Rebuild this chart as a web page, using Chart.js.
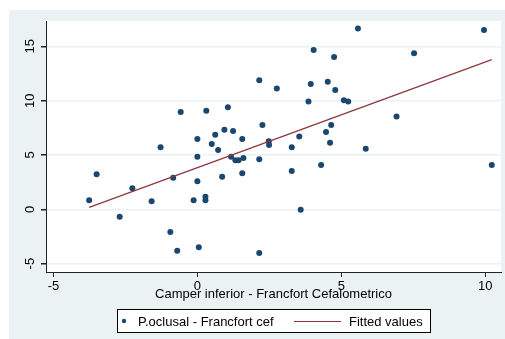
<!DOCTYPE html>
<html>
<head>
<meta charset="utf-8">
<script src="https://cdn.jsdelivr.net/npm/chart.js@4.4.1/dist/chart.umd.min.js"></script>
<style>
  html, body { margin: 0; padding: 0; background: #fff; }
  #wrap { width: 505px; height: 339px; position: relative; }
</style>
</head>
<body>
<div id="wrap"><canvas id="chart" width="505" height="339"></canvas></div>
<script>
// data
var xVals = [-3.76, -3.50, -2.70, -2.26, -1.59, -1.28, -0.94, -0.84, -0.70, -0.58,
             -0.13, 0.00, 0.00, 0.00, 0.05, 0.28, 0.28, 0.31, 0.50, 0.62,
             0.72, 0.86, 0.94, 1.06, 1.17, 1.24, 1.32, 1.43, 1.56, 1.56,
             1.60, 2.15, 2.15, 2.15, 2.26, 2.48, 2.49, 2.76, 3.28, 3.28,
             3.54, 3.59, 3.86, 3.94, 4.04, 4.30, 4.47, 4.53, 4.61, 4.65,
             4.75, 4.79, 5.09, 5.24, 5.58, 5.85, 6.92, 7.53, 9.96, 10.23];
var yVals = [0.83, 3.22, -0.68, 1.93, 0.74, 5.71, -2.09, 2.91, -3.81, 8.96,
             0.83, 2.58, 4.84, 6.47, -3.50, 1.16, 0.83, 9.08, 6.01, 6.87,
             5.46, 3.00, 7.33, 9.39, 4.84, 7.21, 4.51, 4.51, 6.47, 3.31,
             4.72, 11.88, 4.60, -4.03, 7.76, 6.26, 5.92, 11.11, 5.71, 3.53,
             6.69, -0.03, 9.91, 11.54, 14.67, 4.08, 7.12, 11.75, 6.13, 7.76,
             14.02, 10.99, 10.03, 9.91, 16.63, 5.58, 8.53, 14.36, 16.51, 4.08];
var fitX = [-3.76, 10.23];
var fitY = [0.18, 13.78];
var xTicks = [-5, 0, 5, 10];
var yTicks = [-5, 0, 5, 10, 15];
var xTitle = "Camper inferior - Francfort Cefalometrico";
var seriesNames = ["P.oclusal - Francfort cef", "Fitted values"];

var navy = "#1a476f";
var maroon = "#90353b";
var bgColor = "#eaf2f3";
var FONT = "'Liberation Sans', Arial, sans-serif";

var scatterPts = xVals.map(function (x, i) { return { x: x, y: yVals[i] }; });
var fitPts = fitX.map(function (x, i) { return { x: x, y: fitY[i] }; });

// Background, y labels, x title, legend box
var stataLook = {
    id: "stataLook",
    beforeDraw: function (chart) {
        var ctx = chart.ctx, a = chart.chartArea;
        ctx.save();
        ctx.fillStyle = bgColor;
        ctx.fillRect(9, 10, 496, 329);
        ctx.fillStyle = "#fff";
        ctx.fillRect(a.left, a.top, a.right - a.left, a.bottom - a.top);
        ctx.restore();
    },
    afterDraw: function (chart) {
        var ctx = chart.ctx, a = chart.chartArea;
        var ys = chart.scales.y;
        ctx.save();
        ctx.fillStyle = "#000";
        ctx.font = "13px " + FONT;
        // rotated y tick labels
        ys.ticks.forEach(function (t) {
            var py = ys.getPixelForValue(t.value);
            ctx.save();
            ctx.translate(34, py);
            ctx.rotate(-Math.PI / 2);
            ctx.textAlign = "center";
            ctx.textBaseline = "alphabetic";
            ctx.fillText(String(t.value), 0, 0);
            ctx.restore();
        });
        // x axis title
        ctx.textAlign = "center";
        ctx.textBaseline = "alphabetic";
        ctx.fillText(xTitle, (a.left + a.right) / 2, 298);

        // legend
        ctx.fillStyle = "#fff";
        ctx.fillRect(117, 309, 313, 23);
        ctx.strokeStyle = "#000";
        ctx.lineWidth = 1;
        ctx.strokeRect(117.5, 309.5, 313, 23);
        ctx.fillStyle = navy;
        ctx.beginPath();
        ctx.arc(124, 321, 2.2, 0, Math.PI * 2);
        ctx.fill();
        ctx.strokeStyle = maroon;
        ctx.beginPath();
        ctx.moveTo(294, 321.5);
        ctx.lineTo(341, 321.5);
        ctx.stroke();
        ctx.fillStyle = "#000";
        ctx.textAlign = "left";
        ctx.fillText(seriesNames[0], 138, 326);
        ctx.fillText(seriesNames[1], 349, 326);
        ctx.restore();
    }
};

var ctx = document.getElementById("chart").getContext("2d");
var myChart = new Chart(ctx, {
    type: "scatter",
    data: {
        datasets: [{
            label: seriesNames[0],
            data: scatterPts,
            backgroundColor: navy,
            borderWidth: 0,
            pointRadius: 3,
            order: 2
        },
        {
            label: seriesNames[1],
            type: "line",
            data: fitPts,
            borderColor: maroon,
            borderWidth: 1.2,
            pointRadius: 0,
            fill: false,
            order: 1
        }]
    },
    plugins: [stataLook],
    options: {
        responsive: false,
        animation: false,
        events: [],
        layout: { padding: { left: 0, top: 21, right: 3, bottom: 0 } },
        plugins: {
            legend: { display: false },
            tooltip: { enabled: false }
        },
        scales: {
            x: {
                type: "linear",
                min: -5.26,
                max: 10.55,
                afterBuildTicks: function (s) {
                    s.ticks = xTicks.map(function (v) { return { value: v }; });
                },
                afterFit: function (s) { s.height = 67; },
                grid: {
                    drawOnChartArea: false,
                    drawTicks: true,
                    tickLength: 5,
                    tickColor: "#222"
                },
                border: { display: true, color: "#222", width: 1 },
                ticks: {
                    color: "#000",
                    padding: 2,
                    maxRotation: 0,
                    font: { family: FONT, size: 13 }
                }
            },
            y: {
                type: "linear",
                min: -5.77,
                max: 17.33,
                afterBuildTicks: function (s) {
                    s.ticks = yTicks.map(function (v) { return { value: v }; });
                },
                afterFit: function (s) { s.width = 46; },
                grid: {
                    color: bgColor,
                    lineWidth: 1.5,
                    drawTicks: true,
                    tickLength: 5,
                    tickColor: "#222"
                },
                border: { display: true, color: "#222", width: 1 },
                ticks: {
                    color: "rgba(0,0,0,0)",
                    font: { family: FONT, size: 13 }
                }
            }
        }
    }
});
</script>
</body>
</html>
